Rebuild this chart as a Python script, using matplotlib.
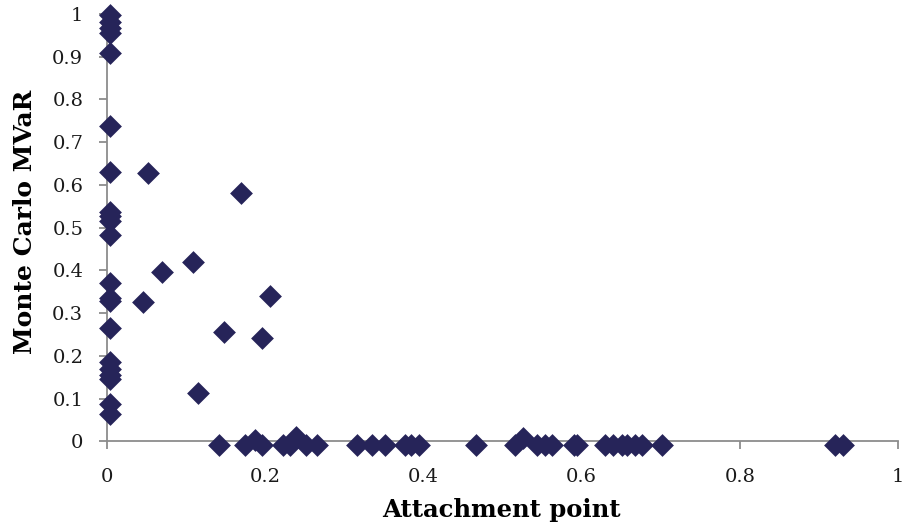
import matplotlib
matplotlib.use("Agg")
import matplotlib.pyplot as plt
from matplotlib.ticker import FuncFormatter

# Attachment points and the corresponding Monte Carlo MVaR estimates
attachment = [
    0.004, 0.004, 0.004, 0.004, 0.004, 0.004, 0.004, 0.004, 0.004, 0.004,
    0.004, 0.004, 0.004, 0.004, 0.004, 0.004, 0.004, 0.004, 0.004, 0.004,
    0.004,
    0.052, 0.046, 0.069, 0.109, 0.115, 0.148, 0.169, 0.196, 0.206,
    0.141, 0.174, 0.187, 0.196, 0.223, 0.231, 0.239, 0.252, 0.265,
    0.316, 0.335, 0.351, 0.377, 0.384, 0.394, 0.466,
    0.516, 0.526, 0.543, 0.554, 0.562, 0.590, 0.594,
    0.630, 0.640, 0.651, 0.657, 0.668, 0.676, 0.701,
    0.920, 0.931,
]
mvar = [
    0.997, 0.980, 0.966, 0.955, 0.908, 0.737, 0.631, 0.537, 0.527, 0.515,
    0.483, 0.370, 0.335, 0.328, 0.265, 0.185, 0.170, 0.155, 0.145, 0.088,
    0.065,
    0.628, 0.327, 0.397, 0.420, 0.113, 0.257, 0.581, 0.243, 0.341,
    -0.008, -0.008, 0.003, -0.008, -0.008, -0.008, 0.011, -0.008, -0.008,
    -0.008, -0.008, -0.008, -0.008, -0.008, -0.008, -0.008,
    -0.008, 0.008, -0.008, -0.008, -0.008, -0.008, -0.008,
    -0.008, -0.008, -0.008, -0.008, -0.008, -0.008, -0.008,
    -0.008, -0.008,
]
x_ticks = [0, 0.2, 0.4, 0.6, 0.8, 1]
y_ticks = [0, 0.1, 0.2, 0.3, 0.4, 0.5, 0.6, 0.7, 0.8, 0.9, 1]

plt.rcParams["font.family"] = ["DejaVu Serif"]

fig = plt.figure(figsize=(9.02, 5.26), dpi=100)
ax = fig.add_axes([0.1186, 0.1608, 0.877, 0.8128])

ax.scatter(attachment, mvar, marker="D", s=135, color="#262459",
           linewidths=0, clip_on=False, zorder=3)

ax.set_xlim(0, 1)
ax.set_ylim(0, 1)
ax.set_xticks(x_ticks)
ax.set_yticks(y_ticks)
fmt = FuncFormatter(lambda v, _: f"{v:g}")
ax.xaxis.set_major_formatter(fmt)
ax.yaxis.set_major_formatter(fmt)

for side in ("top", "right"):
    ax.spines[side].set_visible(False)
for side in ("left", "bottom"):
    ax.spines[side].set_color("#8c8c8c")
    ax.spines[side].set_linewidth(1.3)

ax.tick_params(axis="both", colors="#8c8c8c", length=6, width=1.3,
               labelcolor="#1a1a1a", labelsize=14)
ax.tick_params(axis="y", pad=11)
ax.tick_params(axis="x", pad=13)

ax.set_xlabel("Attachment point", fontsize=17.5, fontweight="bold")
ax.set_ylabel("Monte Carlo MVaR", fontsize=18, fontweight="bold")
ax.xaxis.label.set_va("center")
ax.yaxis.label.set_va("center")
ax.xaxis.set_label_coords(0.499, -0.160)
ax.yaxis.set_label_coords(-0.104, 0.513)

fig.savefig("out.png", dpi=100)
